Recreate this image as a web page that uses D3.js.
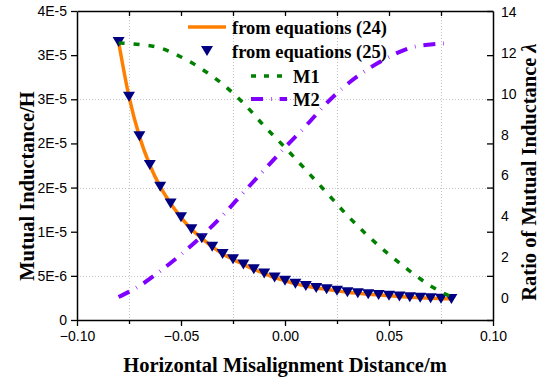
<!DOCTYPE html>
<html><head><meta charset="utf-8">
<script src="https://cdn.jsdelivr.net/npm/d3@7"></script>
<style>
body{margin:0;background:#fff;}
svg{display:block;}
</style></head>
<body>
<svg id="c" width="551" height="380"></svg>
<script>
// ---------- data ----------
const xVals = [-0.08,-0.075,-0.07,-0.065,-0.06,-0.055,-0.05,-0.045,-0.04,-0.035,-0.03,-0.025,-0.02,-0.015,-0.01,-0.005,0,
  0.005,0.01,0.015,0.02,0.025,0.03,0.035,0.04,0.045,0.05,0.055,0.06,0.065,0.07,0.075,0.08];
const eq24 = [3.15e-5,2.53e-5,2.08e-5,1.756e-5,1.51e-5,1.32e-5,1.163e-5,1.027e-5,9.25e-6,8.3e-6,7.48e-6,6.87e-6,6.3e-6,5.74e-6,5.27e-6,4.8e-6,4.45e-6,
  4.12e-6,3.85e-6,3.63e-6,3.47e-6,3.3e-6,3.15e-6,3.03e-6,2.92e-6,2.83e-6,2.75e-6,2.66e-6,2.59e-6,2.53e-6,2.47e-6,2.42e-6,2.38e-6];
const eq25 = [3.15e-5,2.53e-5,2.08e-5,1.756e-5,1.51e-5,1.32e-5,1.163e-5,1.027e-5,9.25e-6,8.3e-6,7.48e-6,6.87e-6,6.3e-6,5.74e-6,5.27e-6,4.8e-6,4.45e-6,
  4.12e-6,3.85e-6,3.63e-6,3.47e-6,3.3e-6,3.15e-6,3.03e-6,2.92e-6,2.83e-6,2.75e-6,2.66e-6,2.59e-6,2.53e-6,2.47e-6,2.42e-6,2.38e-6];
const mX = [-0.08,-0.07,-0.06,-0.05,-0.04,-0.03,-0.02,-0.01,0,0.01,0.02,0.03,0.04,0.05,0.06,0.07,0.08];
const m1 = [12.48,12.41,12.24,11.80,11.21,10.47,9.54,8.42,7.37,6.27,5.16,4.04,3.03,2.13,1.32,0.59,0.05];
const m2 = [0.05,0.59,1.32,2.13,3.03,4.04,5.16,6.27,7.37,8.42,9.54,10.47,11.21,11.80,12.24,12.41,12.48];
const xTicks = [-0.10,-0.05,0.00,0.05,0.10];
const xMinor = [-0.075,-0.025,0.025,0.075];
const xTop = [-0.075,-0.05,-0.025,0,0.025,0.05,0.075];
const yLTicks = [0,5e-6,1e-5,1.5e-5,2e-5,2.5e-5,3e-5,3.5e-5];
const yLLabels = ["0","5E-6","1E-5","2E-5","2E-5","3E-5","3E-5","4E-5"];
const yLGrid = [5e-6,1.5e-5,2.5e-5];
const yRTicks = [0,2,4,6,8,10,12,14];
const legendNames = ["from equations (24)","from equations (25)","M1","M2"];

// ---------- layout ----------
const svg = d3.select("#c");
const L = 77, R = 493, T = 11, B = 320;
const x = d3.scaleLinear().domain([-0.1,0.1]).range([L,R]);
const yL = d3.scaleLinear().domain([0,3.5e-5]).range([B,T]);
const yR = d3.scaleLinear().domain([0,14]).range([298,12]);

const tickFont = "'Liberation Sans', Arial, sans-serif";
const serif = "'Liberation Serif','Times New Roman',serif";

// grid
const grid = svg.append("g").attr("stroke","#c4c4c4").attr("stroke-width",1).attr("stroke-dasharray","1,2");
grid.selectAll(".gv").data(xMinor).join("line")
  .attr("x1",d=>x(d)+0.5).attr("x2",d=>x(d)+0.5).attr("y1",T).attr("y2",B);
grid.selectAll(".gh").data(yLGrid).join("line")
  .attr("y1",d=>Math.round(yL(d))+0.5).attr("y2",d=>Math.round(yL(d))+0.5).attr("x1",L).attr("x2",R);

// axes
function styleAxis(g){
  g.selectAll("path.domain").attr("stroke","#000").attr("stroke-width",1.5);
  g.selectAll(".tick line").attr("stroke","#000").attr("stroke-width",1.3);
  g.selectAll("text").attr("font-family",tickFont).attr("font-size",14).attr("fill","#000");
}
const gB = svg.append("g").attr("transform",`translate(0,${B})`)
  .call(d3.axisBottom(x).tickValues(xTicks).tickFormat(d3.format(".2f")).tickSizeInner(6).tickSizeOuter(0).tickPadding(5));
styleAxis(gB);
const gBm = svg.append("g").attr("transform",`translate(0,${B})`)
  .call(d3.axisBottom(x).tickValues(xMinor).tickFormat("").tickSizeInner(4).tickSizeOuter(0));
styleAxis(gBm); gBm.select("path.domain").remove();
const gT = svg.append("g").attr("transform",`translate(0,${T})`)
  .call(d3.axisTop(x).tickValues(xTop).tickFormat("").tickSizeInner(-5).tickSizeOuter(0));
styleAxis(gT);
const gL = svg.append("g").attr("transform",`translate(${L},0)`)
  .call(d3.axisLeft(yL).tickValues(yLTicks).tickFormat((d,i)=>yLLabels[i]).tickSizeInner(6).tickSizeOuter(0).tickPadding(4));
styleAxis(gL);
const gR = svg.append("g").attr("transform",`translate(${R},0)`)
  .call(d3.axisRight(yL).tickValues(yLTicks).tickFormat("").tickSizeInner(-6).tickSizeOuter(0));
styleAxis(gR);
const gRl = svg.append("g").attr("transform",`translate(${R},0)`)
  .call(d3.axisRight(yR).tickValues(yRTicks).tickSize(0).tickPadding(8));
styleAxis(gRl); gRl.select("path.domain").remove();

// titles
svg.append("text").attr("transform",`translate(27,186) rotate(-90)`)
  .attr("text-anchor","middle").attr("dominant-baseline","central")
  .attr("font-family",serif).attr("font-weight","bold").attr("font-size",20.5).text("Mutual Inductance/H");
const rt = svg.append("text").attr("transform",`translate(529,172) rotate(-90)`)
  .attr("text-anchor","middle").attr("dominant-baseline","central")
  .attr("font-family",serif).attr("font-weight","bold").attr("font-size",20.5);
rt.append("tspan").text("Ratio of Mutual Inductance ");
rt.append("tspan").attr("font-style","italic").text("λ");
svg.append("text").attr("x",285).attr("y",372).attr("text-anchor","middle")
  .attr("font-family",serif).attr("font-weight","bold").attr("font-size",20.5).text("Horizontal Misalignment Distance/m");

// styles
const colors = ["#ff8000","#000080","#008000","#8000ff"];
const dashM1 = "6,9", dashM2 = "12,8,0.6,8";
// inverted triangle, centred on its bounding box
const invTri = {draw(ctx,size){const w=12,h=10;ctx.moveTo(-w/2,-h/2);ctx.lineTo(w/2,-h/2);ctx.lineTo(0,h/2);ctx.closePath();}};

const plot = svg.append("g");
const lineL = d3.line().x(d=>x(d[0])).y(d=>yL(d[1])).curve(d3.curveMonotoneX);
const lineR = d3.line().x(d=>x(d[0])).y(d=>yR(d[1])).curve(d3.curveMonotoneX);

plot.append("path").datum(xVals.map((v,i)=>[v,eq24[i]])).attr("d",lineL)
  .attr("fill","none").attr("stroke",colors[0]).attr("stroke-width",3.5);
plot.selectAll(".tri").data(xVals.map((v,i)=>[v,eq25[i]])).join("path")
  .attr("transform",d=>`translate(${x(d[0])},${yL(d[1])})`)
  .attr("d",d3.symbol().type(invTri)).attr("fill",colors[1]);
plot.append("path").datum(mX.map((v,i)=>[v,m1[i]])).attr("d",lineR)
  .attr("fill","none").attr("stroke",colors[2]).attr("stroke-width",3.5).attr("stroke-dasharray",dashM1);
plot.append("path").datum(mX.map((v,i)=>[v,m2[i]])).attr("d",lineR)
  .attr("fill","none").attr("stroke",colors[3]).attr("stroke-width",4).attr("stroke-dasharray",dashM2);

// legend
const lg = svg.append("g");
const rows = [
  {y:27, x1:188, x2:226, tx:232},
  {y:51, x1:207, x2:207, tx:232},
  {y:76, x1:251, x2:285, tx:293},
  {y:99, x1:251, x2:287, tx:293}
];
lg.append("line").attr("x1",rows[0].x1).attr("x2",rows[0].x2).attr("y1",rows[0].y).attr("y2",rows[0].y)
  .attr("stroke",colors[0]).attr("stroke-width",3.5);
lg.append("path").attr("transform",`translate(${rows[1].x1},${rows[1].y})`).attr("d",d3.symbol().type(invTri)).attr("fill",colors[1]);
lg.append("line").attr("x1",rows[2].x1).attr("x2",rows[2].x2).attr("y1",rows[2].y).attr("y2",rows[2].y)
  .attr("stroke",colors[2]).attr("stroke-width",3.5).attr("stroke-dasharray","5,8");
lg.append("line").attr("x1",rows[3].x1).attr("x2",rows[3].x2).attr("y1",rows[3].y).attr("y2",rows[3].y)
  .attr("stroke",colors[3]).attr("stroke-width",4).attr("stroke-dasharray","12,8,0.6,8");
lg.selectAll(".lt").data(legendNames).join("text")
  .attr("x",(d,i)=>rows[i].tx).attr("y",(d,i)=>rows[i].y+1).attr("dominant-baseline","central")
  .attr("font-family",serif).attr("font-weight","bold").attr("font-size",18.5).text(d=>d);
</script>
</body></html>
